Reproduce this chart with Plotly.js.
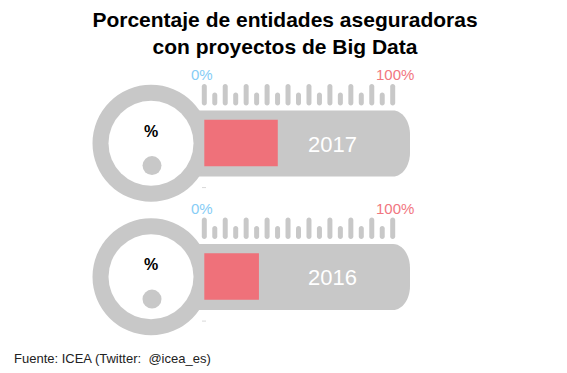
<!DOCTYPE html>
<html><head><meta charset="utf-8">
<script src="https://cdn.plot.ly/plotly-3.0.1.min.js"></script>
<style>html,body{margin:0;padding:0;background:#fff}</style>
</head><body><div id="chart" style="width:567px;height:373px"></div>
<script>
// ---- data ----
const years = ['2017', '2016'];
const values = [39, 29];                 // % of insurers with Big Data projects
const scaleLabels = ['0%', '100%'];
const scaleLabelValues = [0, 100];
const tickValues = [0,5.56,11.11,16.67,22.22,27.78,33.33,38.89,44.44,50,55.56,61.11,66.67,72.22,77.78,83.33,88.89,94.44,100];
const titleLines = ['Porcentaje de entidades aseguradoras', 'con proyectos de Big Data'];
const sourceText = 'Fuente: ICEA (Twitter:&nbsp; @icea_es)';

// ---- geometry / style ----
const W = 567, H = 373;
const X0PX = 204.3, PXU = 1.884;   // pixel of 0% and px per % unit
const CY0 = 143, PYU = 133.5;      // pixel centre of first thermometer, px per category step
const GRAY = '#c8c8c8', RED = '#ef717a', BLUE = '#86cdf6', PINK = '#f17680';
const K = 0.5523;
const FONT = 'Liberation Sans, Arial, sans-serif';

const px2x = p => (p - X0PX) / PXU;          // absolute pixel -> x data
const xo = (t, off) => t + off / PXU;         // data x + pixel offset
const yo = (i, off) => i + off / PYU;         // category index + pixel offset (down positive)
const idx = years.map((_, i) => i);

function roundedTube(i) {
  const L = 185, R = 410, T = -32.5, B = 33.5, rx = 17, ry = 24;
  const X = p => px2x(p), Y = o => yo(i, o);
  return `M${X(L)},${Y(T)} L${X(R-rx)},${Y(T)} ` +
    `C${X(R-rx+rx*K)},${Y(T)} ${X(R)},${Y(T+ry-ry*K)} ${X(R)},${Y(T+ry)} ` +
    `L${X(R)},${Y(B-ry)} C${X(R)},${Y(B-ry+ry*K)} ${X(R-rx+rx*K)},${Y(B)} ${X(R-rx)},${Y(B)} ` +
    `L${X(L)},${Y(B)} Z`;
}
function tickPath(i, t, top, bot) {
  const r = 2.5;
  const X = o => xo(t, o), Y = o => yo(i, o);
  return `M${X(-r)},${Y(top+r)} C${X(-r)},${Y(top+r-r*K)} ${X(-r*K)},${Y(top)} ${X(0)},${Y(top)} ` +
    `C${X(r*K)},${Y(top)} ${X(r)},${Y(top+r-r*K)} ${X(r)},${Y(top+r)} ` +
    `L${X(r)},${Y(bot-r)} C${X(r)},${Y(bot-r+r*K)} ${X(r*K)},${Y(bot)} ${X(0)},${Y(bot)} ` +
    `C${X(-r*K)},${Y(bot)} ${X(-r)},${Y(bot-r+r*K)} ${X(-r)},${Y(bot-r)} Z`;
}
function circle(i, cxPx, off, r, color) {
  return {type:'circle', xref:'x', yref:'y', layer:'below',
    x0: px2x(cxPx - r), x1: px2x(cxPx + r), y0: yo(i, off - r), y1: yo(i, off + r),
    fillcolor: color, line:{width:0}};
}

const shapes = [];
const annotations = [];
idx.forEach(i => {
  shapes.push({type:'path', xref:'x', yref:'y', layer:'below', path: roundedTube(i), fillcolor: GRAY, line:{width:0}});
  shapes.push(circle(i, 151, 0.3, 58.5, GRAY));
  shapes.push(circle(i, 151, 0.3, 42.5, '#ffffff'));
  shapes.push(circle(i, 152, 22.6, 9.5, GRAY));
  tickValues.forEach((t, k) => {
    shapes.push({type:'path', xref:'x', yref:'y', layer:'below',
      path: tickPath(i, t, k % 2 === 0 ? -59 : -50.5, -37.5), fillcolor: GRAY, line:{width:0}});
  });
  shapes.push({type:'line', xref:'x', yref:'y', layer:'below', x0: xo(0,-2.3), x1: xo(0,1.7),
    y0: yo(i,44.6), y1: yo(i,44.6), line:{color:'#d8d8d8', width:1}});
  annotations.push({x: px2x(151), y: yo(i, -11.7), xref:'x', yref:'y', text:'<b>%</b>', showarrow:false,
    xanchor:'center', yanchor:'middle', font:{family:FONT, size:16, color:'#000'}});
  annotations.push({x: px2x(332), y: yo(i, 1), xref:'x', yref:'y', text: years[i], showarrow:false,
    xanchor:'center', yanchor:'middle', font:{family:FONT, size:22, color:'#ffffff'}});
  scaleLabels.forEach((lab, j) => {
    annotations.push({x: scaleLabelValues[j], y: yo(i, -68.5), xref:'x', yref:'y', text: lab, showarrow:false,
      xanchor:'center', yanchor:'middle', xshift: j === 0 ? -2.5 : 2,
      font:{family:FONT, size:15, color: j === 0 ? BLUE : PINK}});
  });
});
annotations.push({x: 12 / W, y: (H - 358) / H, xref:'paper', yref:'paper', text: sourceText, showarrow:false,
  xanchor:'left', yanchor:'middle', font:{family:FONT, size:13, color:'#222'}});

const trace = {
  type:'bar', orientation:'h', x: values, y: idx, width: 46.3 / PYU,
  marker:{color: RED, line:{width:0}}, hoverinfo:'skip', text: years, textposition:'none'
};

const layout = {
  width: W, height: H, margin:{l:0, r:0, t:0, b:0},
  paper_bgcolor:'#fff', plot_bgcolor:'#fff', showlegend:false,
  title:{text: '<b>' + titleLines.join('<br>') + '</b>', x: 285 / W, xanchor:'center',
    y: 1 - 27 / H, yanchor:'top', yref:'container', font:{family:FONT, size:21, color:'#000'}},
  xaxis:{range:[px2x(0), px2x(W)], visible:false, fixedrange:true},
  yaxis:{range:[(H - CY0) / PYU, -CY0 / PYU], visible:false, fixedrange:true},
  shapes, annotations
};
Plotly.newPlot('chart', [trace], layout, {displayModeBar:false, staticPlot:true});
</script></body></html>
